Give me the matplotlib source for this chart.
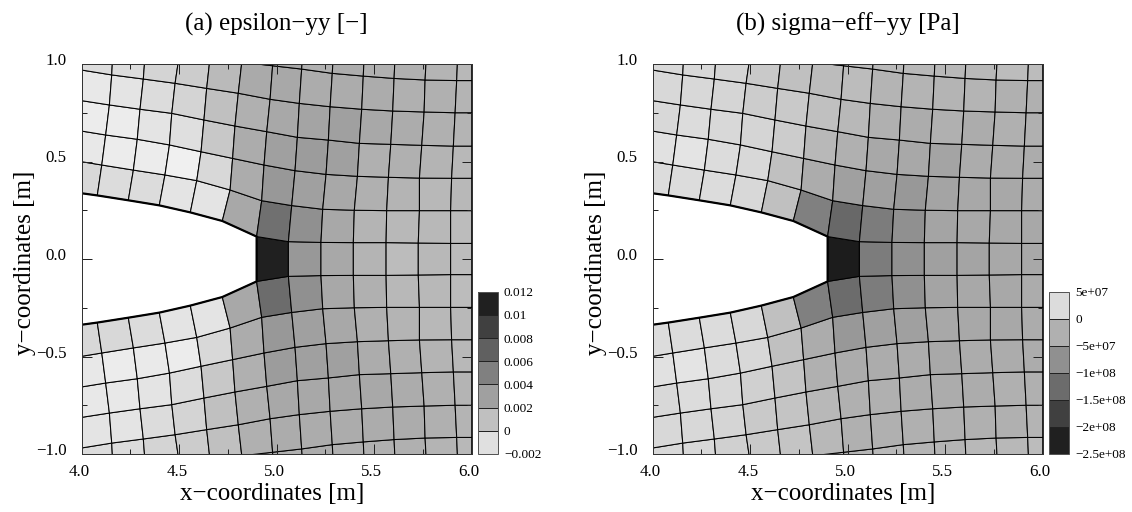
import numpy as np
import matplotlib
matplotlib.use('Agg')
import matplotlib.pyplot as plt
from matplotlib.cm import ScalarMappable
from matplotlib.colors import BoundaryNorm, ListedColormap, Normalize
from matplotlib.ticker import FixedLocator
from matplotlib.transforms import ScaledTranslation

plt.rcParams['font.family'] = ['Liberation Serif', 'DejaVu Serif']

# mesh nodes of the upper half, the lower half is the mirror image
# rows start at the notch, columns start at x=4
node_x = [
    [4.000, 4.080, 4.239, 4.398, 4.557, 4.721, 4.897, 5.060, 5.227, 5.393, 5.561, 5.726, 5.892, 6.000],
    [4.000, 4.103, 4.265, 4.427, 4.590, 4.761, 4.923, 5.077, 5.236, 5.398, 5.564, 5.732, 5.892, 6.000],
    [4.000, 4.123, 4.285, 4.450, 4.612, 4.774, 4.935, 5.094, 5.253, 5.414, 5.573, 5.732, 5.897, 6.000],
    [4.000, 4.142, 4.299, 4.462, 4.627, 4.786, 4.949, 5.106, 5.265, 5.424, 5.585, 5.744, 5.906, 6.000],
    [4.000, 4.154, 4.316, 4.479, 4.641, 4.803, 4.966, 5.116, 5.274, 5.436, 5.595, 5.756, 5.915, 6.000],
    [4.000, 4.162, 4.328, 4.501, 4.658, 4.821, 4.979, 5.128, 5.285, 5.444, 5.602, 5.761, 5.923, 6.000],
    [4.000, 4.175, 4.340, 4.515, 4.672, 4.835, 4.990, 5.140, 5.295, 5.452, 5.610, 5.770, 5.930, 6.000],
]
node_y = [
    [0.337, 0.326, 0.301, 0.275, 0.239, 0.195, 0.115, 0.089, 0.085, 0.084, 0.084, 0.082, 0.080, 0.080],
    [0.499, 0.482, 0.456, 0.431, 0.402, 0.354, 0.299, 0.274, 0.255, 0.250, 0.248, 0.248, 0.248, 0.248],
    [0.656, 0.636, 0.614, 0.585, 0.550, 0.516, 0.482, 0.453, 0.434, 0.424, 0.419, 0.415, 0.414, 0.414],
    [0.812, 0.790, 0.768, 0.747, 0.713, 0.682, 0.653, 0.624, 0.610, 0.593, 0.588, 0.583, 0.579, 0.579],
    [0.969, 0.944, 0.923, 0.901, 0.875, 0.850, 0.819, 0.798, 0.781, 0.768, 0.759, 0.754, 0.750, 0.750],
    [1.120, 1.100, 1.080, 1.050, 1.030, 1.009, 0.991, 0.974, 0.952, 0.938, 0.926, 0.918, 0.915, 0.915],
    [1.290, 1.270, 1.250, 1.220, 1.200, 1.180, 1.160, 1.140, 1.120, 1.110, 1.100, 1.090, 1.085, 1.085],
]

nan = np.nan

# cell values, top row first, in 1e-3
epsilon_cells = [
    [-1, -1, -0.5, 0, 1, 2, 2.5, 2, 2.25, 2, 2, 1.75, 1.5],
    [-0.75, -0.75, -0.25, 0.25, 1.4, 2.4, 2.5, 2.25, 2.25, 2.25, 2, 2, 1.75],
    [-1.5, -1.25, -0.75, -0.25, 1, 2, 2.5, 2.75, 3, 2.5, 2.25, 2, 1.75],
    [-1.75, -1.75, -1.25, -0.9, 0.5, 2.25, 3, 3.25, 3, 2, 2, 1.75, 1.5],
    [-1.5, -1.75, -1.75, -2, -0.5, 2.25, 3.5, 3, 2.5, 2, 1.75, 1.5, 1.5],
    [-0.5, -0.75, -0.75, -1.25, -1.25, 2.5, 6, 4, 2.5, 1.75, 1.5, 1.5, 1.25],
    [nan, nan, nan, nan, nan, nan, 11, 3.5, 2.5, 1.75, 1.25, 1.5, 1.25],
    [-0.5, -0.5, -0.75, -1.25, -1.25, 2.5, 6.25, 4, 2.5, 2, 1.5, 1.5, 1.25],
    [-1.5, -1.75, -1.6, -1.75, -0.5, 2.25, 3.5, 3, 2.5, 2, 1.75, 1.5, 1.5],
    [-1.5, -1.5, -1.25, -0.75, 0.5, 2, 3.25, 3, 3, 2.25, 2, 1.75, 1.5],
    [-1.25, -1.25, -0.75, -0.25, 1, 2, 2.5, 2.5, 2.5, 2.5, 2.25, 2, 1.75],
    [-0.75, -0.75, -0.25, 0.25, 1, 2, 2.25, 2.25, 2.25, 2.25, 2.25, 2, 1.75],
    [-1, -1, -0.5, 0, 1, 2, 2, 2.25, 2, 2, 2, 1.75, 1.5],
]

# cell values, top row first, in MPa
sigma_cells = [
    [20, 20, 15, -1, -12, -17, -17, -23, -23, -23, -23, -17, -17],
    [20, 20, 15, -1, -12, -17, -17, -28, -28, -28, -28, -33, -33],
    [20, 20, 15, 4, -1, -12, -23, -33, -39, -33, -39, -33, -33],
    [20, 25, 20, 15, 4, -23, -33, -44, -44, -49, -39, -39, -39],
    [31, 36, 25, 20, -12, -39, -55, -55, -65, -49, -44, -44, -39],
    [25, 25, 25, 20, -12, -97, -129, -102, -76, -49, -44, -44, -44],
    [nan, nan, nan, nan, nan, nan, -230, -102, -76, -55, -49, -44, -44],
    [25, 25, 25, 20, -12, -97, -124, -102, -76, -49, -44, -44, -39],
    [31, 36, 25, 20, -12, -39, -65, -55, -55, -44, -44, -44, -39],
    [20, 25, 20, 9, -7, -33, -39, -39, -39, -44, -39, -39, -39],
    [20, 20, 15, -1, -7, -23, -33, -33, -39, -39, -39, -33, -33],
    [20, 20, 9, -1, -7, -23, -33, -33, -33, -33, -33, -33, -28],
    [20, 20, 9, -1, -7, -23, -28, -23, -28, -28, -23, -23, -17],
]

epsilon_levels = [-0.002, 0, 0.002, 0.004, 0.006, 0.008, 0.01, 0.012]
epsilon_labels = ['\u22120.002', '0', '0.002', '0.004', '0.006', '0.008', '0.01', '0.012']
epsilon_greys = ['#e0e0e0', '#c0c0c0', '#a0a0a0', '#808080', '#606060', '#404040', '#202020']

sigma_levels = [-2.5e8, -2e8, -1.5e8, -1e8, -5e7, 0, 5e7]
sigma_labels = ['\u22122.5e+08', '\u22122e+08', '\u22121.5e+08', '\u22121e+08', '\u22125e+07', '0', '5e+07']
sigma_greys = ['#202020', '#404040', '#6c6c6c', '#909090', '#b0b0b0', '#dcdcdc']

x_ticks = [4.0, 4.5, 5.0, 5.5, 6.0]
x_minor = [4.25, 4.75, 5.25, 5.75]
y_ticks = [-1.0, -0.5, 0.0, 0.5, 1.0]
y_minor = [-0.75, -0.25, 0.25, 0.75]

W, H = 1132, 512
DPI = 100
px = 72 / DPI


def box(x0, x1, y_top, y_bottom):
    return [x0 / W, (H - y_bottom) / H, (x1 - x0) / W, (y_bottom - y_top) / H]


upper_x = np.array(node_x)
upper_y = np.array(node_y)
mesh_x = np.vstack([upper_x[::-1], upper_x])
mesh_y = np.vstack([-upper_y[::-1], upper_y])


def draw_field(fig, ax_box, cells, scale, cmap, vmin, vmax, title):
    ax = fig.add_axes(ax_box)
    # top row of the table goes to the top of the plot
    vals = np.ma.masked_invalid(np.array(cells, dtype=float)[::-1] * scale)
    ax.pcolor(mesh_x, mesh_y, vals, cmap=cmap, norm=Normalize(vmin, vmax),
              edgecolors='black', linewidth=1.05 * px, antialiased=True)
    # thick line round the notch
    edge_x = np.r_[upper_x[0, :7], upper_x[0, 6::-1]]
    edge_y = np.r_[upper_y[0, :7], -upper_y[0, 6::-1]]
    ax.plot(edge_x, edge_y, color='black', lw=2.2 * px, solid_joinstyle='miter', zorder=3)

    ax.set_xlim(4, 6)
    ax.set_ylim(-1, 1)
    ax.set_axisbelow(False)
    ax.xaxis.set_major_locator(FixedLocator(x_ticks))
    ax.xaxis.set_minor_locator(FixedLocator(x_minor))
    ax.yaxis.set_major_locator(FixedLocator(y_ticks))
    ax.yaxis.set_minor_locator(FixedLocator(y_minor))
    ax.set_xticklabels(['%.1f' % v for v in x_ticks])
    ax.set_yticklabels([('%.1f' % v).replace('-', '\u2212') for v in y_ticks])
    ax.tick_params(which='major', direction='in', top=True, right=True, length=10 * px,
                   width=1 * px, color='#222222', labelsize=12.2)
    ax.tick_params(which='minor', direction='in', top=True, right=True, length=5 * px,
                   width=1 * px, color='#222222')
    ax.tick_params(axis='x', which='major', pad=10 * px)
    ax.tick_params(axis='y', which='major', pad=15 * px)
    for s in ax.spines.values():
        s.set_linewidth(1 * px)
        s.set_color('#333333')
        s.set_zorder(4)
    shift_x = ScaledTranslation(-2.5 / DPI, 0, fig.dpi_scale_trans)
    shift_y = ScaledTranslation(0, 5 / DPI, fig.dpi_scale_trans)
    for lab in ax.get_xticklabels():
        lab.set_transform(lab.get_transform() + shift_x)
    for lab in ax.get_yticklabels():
        lab.set_transform(lab.get_transform() + shift_y)

    ax.set_title(title, fontsize=18, pad=33 * px)
    ax.set_xlabel('x\u2212coordinates [m]', fontsize=18, va='baseline')
    ax.xaxis.set_label_coords(0.489, -0.118)
    ax.set_ylabel('y\u2212coordinates [m]', fontsize=18, va='baseline')
    ax.yaxis.set_label_coords(-0.13, 0.49)
    return ax


def draw_bar(fig, cax_box, levels, labels, greys):
    cax = fig.add_axes(cax_box)
    sm = ScalarMappable(norm=BoundaryNorm(levels, len(greys)), cmap=ListedColormap(greys))
    cb = fig.colorbar(sm, cax=cax, ticks=levels, drawedges=True, spacing='proportional')
    cb.ax.set_yticklabels(labels)
    cb.ax.minorticks_off()
    cb.ax.tick_params(length=0, labelsize=9.5, pad=6.3 * px)
    cb.outline.set_linewidth(1 * px)
    cb.outline.set_edgecolor('#555555')
    cb.dividers.set_linewidth(1 * px)
    cb.dividers.set_color('#222222')
    return cb


fig = plt.figure(figsize=(W / DPI, H / DPI), dpi=DPI)

draw_field(fig, box(81.7, 471.7, 64, 454), epsilon_cells, 1e-3, 'gray_r', -2.9375e-3, 13e-3, '(a) epsilon\u2212yy [\u2212]')
draw_bar(fig, box(478.3, 497.7, 291.7, 454), epsilon_levels, epsilon_labels, epsilon_greys)

draw_field(fig, box(652.7, 1042.7, 64, 454), sigma_cells, 1e6, 'gray', -267.3e6, 71.8e6, '(b) sigma\u2212eff\u2212yy [Pa]')
draw_bar(fig, box(1049.3, 1069, 291.7, 454), sigma_levels, sigma_labels, sigma_greys)

fig.savefig('out.png', dpi=DPI)
